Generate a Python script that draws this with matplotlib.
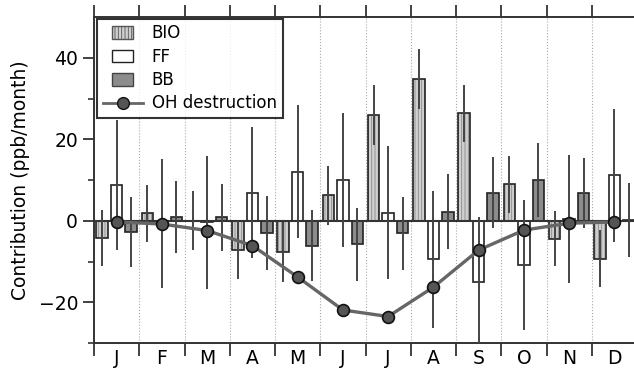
import numpy as np
import matplotlib.pyplot as plt
from matplotlib.patches import Patch, Rectangle
from matplotlib.lines import Line2D
from matplotlib.legend_handler import HandlerPatch

months = ['J', 'F', 'M', 'A', 'M', 'J', 'J', 'A', 'S', 'O', 'N', 'D']

# monthly contributions (ppb/month) and 1-sigma spread
bio = [-4.2, 1.8, 0.0, -7.2, -7.6, 6.2, 25.9, 34.8, 26.4, 8.9, -4.4, -9.3]
bio_err = [6.9, 6.9, 7.2, 7.2, 7.4, 7.2, 7.4, 7.3, 7.0, 7.0, 6.8, 7.0]
ff = [8.8, -0.6, -0.4, 6.9, 12.0, 10.0, 2.0, -9.5, -15.0, -10.9, 0.5, 11.2]
ff_err = [15.9, 15.8, 16.4, 16.1, 16.3, 16.4, 16.3, 16.8, 16.0, 16.0, 15.7, 16.3]
bb = [-2.7, 1.0, 0.8, -3.0, -6.1, -5.8, -3.1, 2.2, 6.9, 10.0, 6.7, 0.2]
bb_err = [8.6, 8.8, 8.3, 9.0, 8.8, 9.0, 9.0, 9.2, 8.8, 9.0, 8.6, 9.0]
oh = [-0.3, -0.8, -2.4, -6.1, -13.8, -21.9, -23.5, -16.3, -7.2, -2.3, -0.6, -0.3]

plt.rcParams['font.family'] = ['DejaVu Sans']
plt.rcParams['hatch.linewidth'] = 0.6
plt.rcParams['hatch.color'] = '#8a8a8a'

fig = plt.figure(figsize=(6.34, 3.70), dpi=100)
ax = fig.add_axes([94/634, 1-343/370, 543/634, 326/370])

x = np.arange(12) + 0.5
w = 0.25
off = 0.32
edge = '#222222'
ecol = '#444444'

# BIO: light grey with vertical hatching
ax.bar(x - off, bio, w, color='#cfcfcf', hatch='|||||', edgecolor='#8a8a8a', linewidth=0, zorder=2)
ax.bar(x - off, bio, w, fill=False, edgecolor=edge, linewidth=1.2, zorder=2.1)
ax.bar(x, ff, w, color='white', edgecolor=edge, linewidth=1.2, zorder=2)
ax.bar(x + off, bb, w, color='#8c8c8c', edgecolor=edge, linewidth=1.2, zorder=2)

for xx, yy, ee in [(x - off, bio, bio_err), (x, ff, ff_err), (x + off, bb, bb_err)]:
    ax.errorbar(xx, yy, yerr=ee, fmt='none', ecolor=ecol, elinewidth=1.4, capsize=0, zorder=3)

ax.axhline(0, color='#333333', lw=1.5, zorder=2.5)
ax.plot(x, oh, '-o', color='#666666', lw=2.4, markersize=8.5,
        markerfacecolor='#555555', markeredgecolor='#111111', markeredgewidth=1.2, zorder=4)


def small_box(legend, orig_handle, xdescent, ydescent, width, height, fontsize):
    bw, bh = 15.0, 9.0
    return Rectangle((-xdescent + (width - bw) / 2, -ydescent + (height - bh) / 2), bw, bh)


handles = [Patch(facecolor='#cfcfcf', hatch='|||||', edgecolor='#555555', linewidth=1.0),
           Patch(facecolor='white', edgecolor='#222222', linewidth=1.0),
           Patch(facecolor='#8c8c8c', edgecolor='#444444', linewidth=1.0),
           Line2D([], [], color='#666666', lw=2.0, marker='o', markersize=8.5,
                  markerfacecolor='#555555', markeredgecolor='#111111')]
leg = ax.legend(handles, ['BIO', 'FF', 'BB', 'OH destruction'], loc='upper left',
                bbox_to_anchor=(0.005, 0.995), fontsize=12, frameon=True, fancybox=False,
                borderaxespad=0, handlelength=2.4, handletextpad=0.55, labelspacing=0.32,
                borderpad=0.35, handler_map={Patch: HandlerPatch(patch_func=small_box)})
leg.get_frame().set_edgecolor('black')
leg.get_frame().set_linewidth(1.5)
leg.set_zorder(5)

ax.set_xlim(0, 12)
ax.set_ylim(-30, 50)
ax.set_xticks(np.arange(0, 13))
ax.set_xticklabels([])
ax.set_xticks(x, minor=True)
ax.set_xticklabels(months, minor=True, fontsize=13.5)
ax.tick_params(axis='x', which='major', direction='out', length=9, width=1.3,
               top=True, bottom=True, color='#333333')
ax.tick_params(axis='x', which='minor', length=0, pad=4)
ax.set_yticks([-20, 0, 20, 40])
ax.set_yticks([-30, -10, 10, 30], minor=True)
ax.tick_params(axis='y', which='major', direction='out', length=8, width=1.3,
               labelsize=13.5, color='#333333')
ax.tick_params(axis='y', which='minor', direction='out', length=4, width=1.2, color='#333333')

for b in range(1, 12):
    ax.axvline(b, color='#aaaaaa', lw=0.8, ls=':', zorder=1)

for s in ['left', 'bottom', 'top']:
    ax.spines[s].set_linewidth(1.4)
    ax.spines[s].set_color('#333333')
ax.spines['right'].set_visible(False)

ax.set_ylabel('Contribution (ppb/month)', fontsize=13.5, labelpad=6)

fig.savefig('out.png', dpi=100)
